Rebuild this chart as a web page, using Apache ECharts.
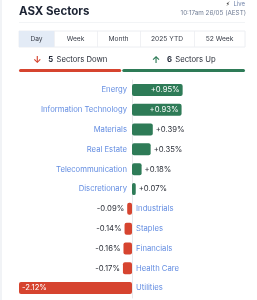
<!DOCTYPE html>
<html>
<head>
<meta charset="utf-8">
<script src="https://cdn.jsdelivr.net/npm/echarts@6/dist/echarts.min.js"></script>
<style>
html,body{margin:0;padding:0;background:#fff;}
#c{width:257px;height:300px;}
</style>
</head>
<body>
<div id="c"></div>
<script>
var title = 'ASX Sectors';
var liveText = 'Live';
var timestamp = '10:17am 26/05 (AEST)';
var tabs = ['Day', 'Week', 'Month', '2025 YTD', '52 Week'];
var categories = ['Energy', 'Information Technology', 'Materials', 'Real Estate', 'Telecommunication', 'Discretionary', 'Industrials', 'Staples', 'Financials', 'Health Care', 'Utilities'];
var values = [0.95, 0.93, 0.39, 0.35, 0.18, 0.07, -0.09, -0.14, -0.16, -0.17, -2.12];

var GREEN = '#2e7b57', RED = '#d6442f', BLUE = '#3b6fd9', FONT = 'Inter, "Noto Sans", sans-serif';
var upCount = values.filter(function (v) { return v > 0; }).length;
var downCount = values.filter(function (v) { return v < 0; }).length;

function fmt(v) { return (v > 0 ? '+' : '') + v.toFixed(2) + '%'; }

var chart = echarts.init(document.getElementById('c'), null, { renderer: 'canvas' });

var graphics = [
  { type: 'rect', left: 0, top: 0, shape: { width: 2, height: 300 }, style: { fill: '#f1f3f6' }, silent: true },
  { type: 'text', left: 19, top: 6, style: { text: title, font: 'bold 11.5px ' + FONT, fill: '#1c2333' } },
  { type: 'text', x: 245, y: 4, style: { text: '{a|\u26A1} {b|' + liveText + '}', textAlign: 'right', textVerticalAlign: 'middle',
      rich: { a: { fill: '#111', font: '6px "DejaVu Sans", sans-serif' }, b: { fill: '#6f82a8', font: '6px ' + FONT } } } },
  { type: 'text', right: 11, top: 10, style: { text: timestamp, font: '6.3px ' + FONT, fill: '#6f7c94' } },
  { type: 'rect', shape: { x: 19, y: 22, width: 226, height: 0.8 }, style: { fill: '#eef0f3' }, silent: true }
];

var tabW = [35, 43, 43, 54, 51];
var tx = 19;
graphics.push({ type: 'rect', shape: { x: 19, y: 31, width: 226, height: 16 }, style: { fill: '#fff', stroke: '#eceef2', lineWidth: 1 } });
tabs.forEach(function (t, i) {
  var w = tabW[i];
  if (i === 0) graphics.push({ type: 'rect', shape: { x: tx, y: 31, width: w, height: 16 }, style: { fill: '#e3ebf6' } });
  if (i > 0) graphics.push({ type: 'rect', shape: { x: tx, y: 31, width: 0.8, height: 16 }, style: { fill: '#eceef2' } });
  graphics.push({ type: 'text', x: tx + w / 2, y: 39, style: { text: t, font: '6.7px ' + FONT, fill: '#3a3f4a', textAlign: 'center', textVerticalAlign: 'middle' } });
  tx += w;
});

var totalW = 226, gap = 1;
var redW = (totalW - gap) * downCount / (downCount + upCount);
graphics.push({ type: 'text', x: 19 + redW / 2, y: 60, style: {
  text: '{a|\u2193}  {b|' + downCount + '} {c|Sectors Down}', textAlign: 'center', textVerticalAlign: 'middle',
  rich: { a: { fill: RED, font: 'bold 9.5px ' + FONT }, b: { fill: '#1c2333', font: 'bold 7.7px ' + FONT }, c: { fill: '#2a2f3a', font: '7.7px ' + FONT } } } });
graphics.push({ type: 'text', x: 19 + redW + gap + (totalW - redW - gap) / 2, y: 60, style: {
  text: '{a|\u2191}  {b|' + upCount + '} {c|Sectors Up}', textAlign: 'center', textVerticalAlign: 'middle',
  rich: { a: { fill: GREEN, font: 'bold 9.5px ' + FONT }, b: { fill: '#1c2333', font: 'bold 7.7px ' + FONT }, c: { fill: '#2a2f3a', font: '7.7px ' + FONT } } } });
graphics.push({ type: 'rect', shape: { x: 19, y: 69, width: redW, height: 3, r: 1.5 }, style: { fill: RED } });
graphics.push({ type: 'rect', shape: { x: 19 + redW + gap, y: 69, width: totalW - redW - gap, height: 3, r: 1.5 }, style: { fill: GREEN } });

var barData = values.map(function (v) {
  var inside = Math.abs(v) > 0.5;
  return {
    value: v,
    itemStyle: { color: v >= 0 ? GREEN : RED, borderRadius: 2 },
    label: {
      show: true,
      position: inside ? (v >= 0 ? 'insideRight' : 'insideLeft') : (v >= 0 ? 'right' : 'left'),
      distance: 3,
      color: inside ? '#fff' : '#2b2f38'
    }
  };
});

var nameData = categories.map(function (c, i) {
  var v = values[i];
  return {
    value: [0, i],
    label: { show: true, position: v >= 0 ? 'left' : 'right', distance: v >= 0 ? 5 : 4, formatter: c }
  };
});

chart.setOption({
  animation: false,
  textStyle: { fontFamily: FONT },
  graphic: graphics,
  grid: { left: 19, right: 12, top: 80, bottom: 2, containLabel: false },
  xAxis: { type: 'value', min: -2.12, max: 2.12, show: false },
  yAxis: {
    type: 'category', data: categories, inverse: true,
    axisLine: { show: true, onZero: true, lineStyle: { color: '#e8e9ec', width: 1 } },
    axisTick: { show: false }, axisLabel: { show: false }, splitLine: { show: false }
  },
  series: [
    {
      type: 'bar', data: barData, barWidth: 12,
      label: { fontSize: 7.7, fontFamily: FONT, formatter: function (p) { return fmt(p.value); } }
    },
    {
      type: 'scatter', data: nameData, symbolSize: 0.1, itemStyle: { color: 'rgba(0,0,0,0)' },
      label: { fontSize: 7.7, fontFamily: FONT, color: BLUE }, z: 5, silent: true
    }
  ]
});
</script>
</body>
</html>
